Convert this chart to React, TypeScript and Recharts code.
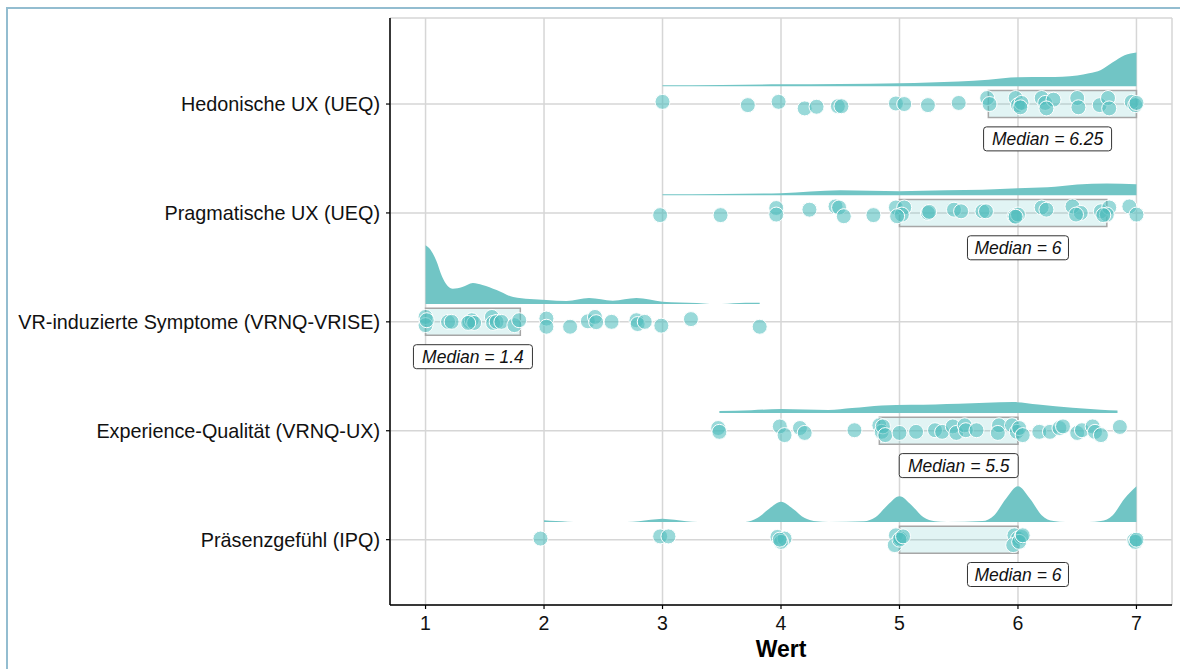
import React from 'react';
import { ComposedChart, Area, Scatter, XAxis, YAxis, CartesianGrid, ReferenceArea } from 'recharts';

// rows from bottom (0) to top (4)
const categories = [
  'Präsenzgefühl (IPQ)',
  'Experience-Qualität (VRNQ-UX)',
  'VR-induzierte Symptome (VRNQ-VRISE)',
  'Pragmatische UX (UEQ)',
  'Hedonische UX (UEQ)',
];
const xTicks = [1, 2, 3, 4, 5, 6, 7];
const medians = [6, 5.5, 1.4, 6, 6.25];
const boxLow = [5, 4.83, 1.0, 5.0, 5.75];
const boxHigh = [6, 6.0, 1.8, 6.75, 7.0];

// individual answers: [value, vertical jitter]
const ipqPoints = [
  [1.97, 0.01], [2.98, 0.03], [3.05, 0.03], [3.97, 0.025], [4.03, 0.01], [4.0, -0.02], [3.99, 0.0],
  [4.97, 0.04], [4.96, -0.05], [5.01, 0.01], [5.0, 0.0], [5.03, 0.03],
  [5.97, 0.04], [6.0, 0.01], [5.96, -0.05], [6.03, 0.025], [6.01, -0.02], [6.04, 0.04],
  [6.98, -0.005], [6.99, -0.02], [7.0, 0.0],
];
const expPoints = [
  [3.47, 0.025], [3.48, -0.01], [3.99, 0.04], [4.03, -0.04], [4.16, 0.025], [4.2, -0.02], [4.62, 0.005],
  [4.83, 0.05], [4.85, -0.01], [4.86, 0.04], [4.88, -0.04], [5.0, -0.02], [5.14, -0.01], [5.3, 0.005],
  [5.36, -0.01], [5.45, 0.04], [5.48, -0.02], [5.55, 0.05], [5.56, 0.005], [5.65, 0.005], [5.84, 0.05],
  [5.83, -0.02], [5.95, 0.05], [5.99, -0.01], [6.01, 0.025], [6.04, -0.04], [6.18, -0.01], [6.27, -0.01],
  [6.35, 0.025], [6.38, 0.04], [6.5, -0.02], [6.54, 0.005], [6.63, 0.04], [6.65, -0.01], [6.7, -0.04],
  [6.86, 0.035],
];
const vrPoints = [
  [1.0, 0.045], [1.0, -0.03], [1.01, 0.015], [1.19, 0.0], [1.22, 0.0], [1.37, 0.0], [1.39, 0.015],
  [1.41, -0.01], [1.36, -0.01], [1.56, 0.045], [1.57, -0.01], [1.6, 0.0], [1.64, 0.0], [1.75, -0.03],
  [1.79, 0.015], [2.02, 0.03], [2.02, -0.045], [2.22, -0.045], [2.37, 0.005], [2.43, 0.045],
  [2.44, -0.003], [2.57, 0.0], [2.78, 0.015], [2.79, -0.02], [2.85, 0.0], [2.99, -0.035], [3.24, 0.025],
  [3.82, -0.045],
];
const pragPoints = [
  [2.98, -0.02], [3.49, -0.02], [3.96, 0.045], [3.96, -0.015], [4.24, 0.03], [4.46, 0.06], [4.49, 0.05],
  [4.53, -0.03], [4.78, -0.02], [4.97, 0.05], [5.04, 0.05], [5.02, -0.015], [4.98, -0.03], [5.24, 0.0],
  [5.25, 0.01], [5.46, 0.03], [5.52, 0.015], [5.7, 0.015], [5.73, 0.015], [5.97, -0.03], [6.0, -0.015],
  [5.98, -0.035], [6.2, 0.05], [6.24, 0.03], [6.46, 0.06], [6.53, 0.0], [6.49, -0.015], [6.7, 0.015],
  [6.77, 0.05], [6.75, -0.015], [6.72, -0.02], [6.94, 0.06], [7.0, -0.015],
];
const hedPoints = [
  [3.0, 0.02], [3.72, -0.01], [3.98, 0.02], [4.2, -0.04], [4.3, -0.025], [4.48, -0.02], [4.51, -0.02],
  [4.97, 0.005], [5.04, 0.0], [5.24, -0.01], [5.5, 0.01], [5.74, 0.055], [5.76, 0.0], [5.98, 0.055],
  [6.0, -0.01], [6.03, 0.01], [6.02, -0.03], [6.2, 0.055], [6.23, 0.01], [6.3, 0.04], [6.24, -0.04],
  [6.5, 0.055], [6.51, -0.03], [6.69, -0.01], [6.76, 0.055], [6.77, -0.04], [6.96, 0.02], [6.99, -0.01],
  [7.0, 0.01],
];

// density curves: [value, height]
const ipqDensity = [
  [2.0, 0.016], [2.1, 0.008], [2.2, 0.002], [2.3, 0], [2.7, 0], [2.8, 0.006], [2.9, 0.02], [3.0, 0.03],
  [3.1, 0.02], [3.2, 0.006], [3.3, 0], [3.7, 0], [3.8, 0.035], [3.9, 0.121], [4.0, 0.184], [4.1, 0.121],
  [4.2, 0.035], [4.3, 0.005], [4.4, 0], [4.7, 0.006], [4.8, 0.045], [4.9, 0.156], [5.0, 0.236],
  [5.1, 0.156], [5.2, 0.045], [5.3, 0.006], [5.4, 0], [5.7, 0.008], [5.8, 0.062], [5.9, 0.216],
  [6.0, 0.328], [6.1, 0.216], [6.2, 0.062], [6.3, 0.008], [6.4, 0], [6.6, 0], [6.7, 0.008], [6.8, 0.062],
  [6.9, 0.216], [7.0, 0.328],
];
const expDensity = [
  [3.48, 0.018], [3.75, 0.025], [4.0, 0.037], [4.2, 0.032], [4.4, 0.028], [4.6, 0.045], [4.85, 0.07],
  [5.1, 0.075], [5.3, 0.079], [5.5, 0.085], [5.73, 0.095], [5.96, 0.1], [6.17, 0.079], [6.46, 0.048],
  [6.7, 0.03], [6.84, 0.022],
];
const vrDensity = [
  [1.0, 0.54], [1.03, 0.515], [1.09, 0.4], [1.14, 0.25], [1.23, 0.14], [1.31, 0.156], [1.4, 0.193],
  [1.48, 0.175], [1.6, 0.129], [1.74, 0.064], [1.88, 0.046], [2.02, 0.037], [2.19, 0.028], [2.38, 0.055],
  [2.58, 0.03], [2.78, 0.055], [3.0, 0.021], [3.29, 0.009], [3.4, 0.001], [3.5, 0.0], [3.6, 0.008],
  [3.7, 0.012], [3.82, 0.012],
];
const pragDensity = [
  [3.0, 0.008], [3.5, 0.012], [4.0, 0.018], [4.5, 0.045], [4.75, 0.04], [5.0, 0.037], [5.4, 0.046],
  [5.7, 0.05], [6.0, 0.064], [6.25, 0.072], [6.5, 0.098], [6.75, 0.107], [7.0, 0.1],
];
const hedDensity = [
  [3.0, 0.01], [3.5, 0.012], [4.0, 0.018], [4.5, 0.022], [5.0, 0.028], [5.25, 0.035], [5.5, 0.045],
  [5.75, 0.06], [6.0, 0.083], [6.25, 0.085], [6.5, 0.1], [6.6, 0.12], [6.7, 0.15], [6.8, 0.22],
  [6.9, 0.285], [7.0, 0.31],
];

const pointsByRow = [ipqPoints, expPoints, vrPoints, pragPoints, hedPoints];
const densityByRow = [ipqDensity, expDensity, vrDensity, pragDensity, hedDensity];

const TEAL = '#71c5c5';
const FONT = '"Liberation Sans", Arial, sans-serif';
const DENS_OFFSET = 0.163;
const BOX_HALF = 0.124;
const LABEL_OFFSET = 0.32;

const pointData = pointsByRow.flatMap((pts, row) => pts.map(([v, j]) => ({ x: v, y: row + j })));
const labelData = medians.map((m, row) => ({ x: m, y: row - LABEL_OFFSET, text: `Median = ${m}` }));

const Dot = (p: any) => (
  <circle cx={p.cx} cy={p.cy} r={7.5} fill="#4fbdbd" fillOpacity={0.58} stroke="#ffffff" strokeWidth={1} />
);

const MedianLabel = (p: any) => {
  const text = p.payload.text as string;
  const w = text.length * 9 + 11;
  return (
    <g>
      <rect x={p.cx - w / 2} y={p.cy - 12} width={w} height={24} rx={3} fill="#fff" stroke="#333" strokeWidth={1} />
      <text x={p.cx} y={p.cy + 6} textAnchor="middle" fontFamily={FONT} fontStyle="italic" fontSize={17.5} fill="#111">
        {text}
      </text>
    </g>
  );
};

const App: React.FC = () => {
  return (
    <div>
      <div
        style={{
          position: 'absolute', left: 6, top: 7, width: 1180, height: 670, boxSizing: 'border-box',
          borderTop: '2px solid #93bdd0', borderLeft: '2px solid #93bdd0',
        }}
      />
      <div style={{ position: 'absolute', left: 0, top: 0 }}>
        <ComposedChart width={1180} height={669} margin={{ top: 18, right: 8, bottom: 0, left: 0 }}>
          <CartesianGrid stroke="#d6d6d6" strokeWidth={1.5} />
          <XAxis
            type="number" dataKey="x" domain={[0.7, 7.3]} ticks={xTicks} allowDataOverflow height={64}
            axisLine={{ stroke: '#000', strokeWidth: 1.5 }} tickLine={{ stroke: '#000', strokeWidth: 1.2 }}
            tickSize={4} tickMargin={7}
            tick={{ fill: '#111', fontSize: 19.5, fontFamily: FONT }}
            label={{ value: 'Wert', position: 'insideBottom', offset: 12, style: { fontWeight: 'bold', fontSize: 23, fill: '#000', fontFamily: FONT } }}
          />
          <YAxis
            type="number" dataKey="y" domain={[-0.6, 4.79]} ticks={[0, 1, 2, 3, 4]} allowDataOverflow width={390}
            axisLine={{ stroke: '#000', strokeWidth: 1.5 }} tickLine={{ stroke: '#000', strokeWidth: 1.2 }}
            tickSize={4} tickMargin={6} interval={0}
            tickFormatter={(v: number) => categories[v]}
            tick={{ fill: '#111', fontSize: 19.8, fontFamily: FONT }}
          />
          {densityByRow.map((dens, row) => (
            <Area
              key={`d${row}`}
              data={dens.map(([v, h]) => ({ x: v, band: [row + DENS_OFFSET, row + DENS_OFFSET + h] }))}
              dataKey="band" type="monotone" fill={TEAL} fillOpacity={1} stroke="none"
              isAnimationActive={false} dot={false} activeDot={false}
            />
          ))}
          {boxLow.map((lo, row) => (
            <ReferenceArea
              key={`b${row}`} x1={lo} x2={boxHigh[row]} y1={row - BOX_HALF} y2={row + BOX_HALF}
              fill="#5bc0c0" fillOpacity={0.18} stroke="#a6a6a6" strokeWidth={1.5}
            />
          ))}
          <Scatter data={pointData} shape={Dot} isAnimationActive={false} />
          <Scatter data={labelData} shape={MedianLabel} isAnimationActive={false} />
        </ComposedChart>
      </div>
    </div>
  );
};

export default App;
